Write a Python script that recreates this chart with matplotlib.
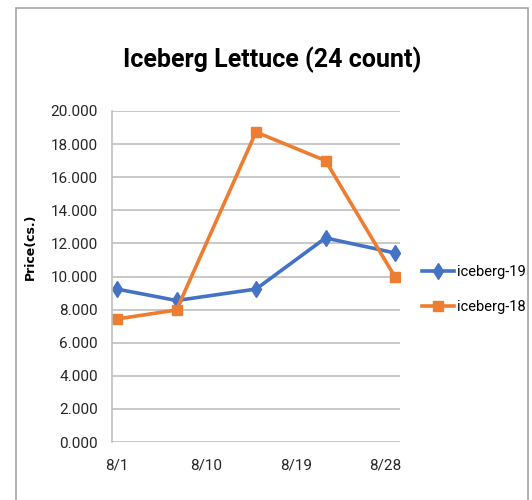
import datetime as dt
import matplotlib
matplotlib.use("Agg")
import matplotlib.pyplot as plt
import matplotlib.dates as mdates
from matplotlib.patches import Rectangle

plt.rcParams['font.family'] = ['Roboto', 'DejaVu Sans']

dates = ["2019-08-01", "2019-08-07", "2019-08-15", "2019-08-22", "2019-08-29"]
iceberg_19 = [9.24, 8.55, 9.24, 12.33, 11.42]
iceberg_18 = [7.43, 7.98, 18.73, 17.0, 9.97]
tick_dates = ["2019-08-01", "2019-08-10", "2019-08-19", "2019-08-28"]

x = [dt.datetime.strptime(d, "%Y-%m-%d") for d in dates]
xt = [dt.datetime.strptime(d, "%Y-%m-%d") for d in tick_dates]

fig = plt.figure(figsize=(5.32, 5.0), dpi=100)
ax = fig.add_axes([0.2105, 0.116, 0.5414, 0.662])

ax.plot(x, iceberg_19, color="#4472C4", lw=2.6, marker="d", ms=8.5, label="iceberg-19")
ax.plot(x, iceberg_18, color="#ED7D31", lw=2.6, marker="s", ms=7, label="iceberg-18")

ax.set_xlim(x[0] - dt.timedelta(days=0.5), x[-1] + dt.timedelta(days=0.5))
ax.set_ylim(0, 20)
ax.set_yticks(range(0, 21, 2))
ax.set_yticklabels([f"{v:.3f}" for v in range(0, 21, 2)], fontsize=11, color="#262626")
ax.set_xticks(xt)
ax.xaxis.set_major_formatter(mdates.DateFormatter("%-m/%-d"))
ax.tick_params(axis="x", labelsize=11, colors="#262626", length=0, pad=12)
ax.tick_params(axis="y", length=0, pad=10)
ax.grid(axis="y", color="#bfbfbf", lw=1.2)
ax.set_axisbelow(True)
for s in ["top", "right", "bottom"]:
    ax.spines[s].set_visible(False)
ax.spines["left"].set_color("#bfbfbf")
ax.spines["left"].set_linewidth(1.2)

ax.set_ylabel("Price(cs.)", family="DejaVu Sans", fontweight="bold", fontsize=9)
ax.yaxis.set_label_coords(-0.262, 0.59)

fig.text(0.512, 0.88, "Iceberg Lettuce (24 count)", ha="center", va="center",
         fontsize=18, fontweight="bold", color="black")

ax.legend(loc="center left", bbox_to_anchor=(1.055, 0.46), frameon=False,
          fontsize=10.5, handlelength=2.2, handletextpad=0.2, labelspacing=1.45,
          borderaxespad=0)

fig.patches.append(Rectangle((16 / 532, -0.05), 512 / 532, 1.05 - 8 / 500,
                             transform=fig.transFigure, fill=False,
                             edgecolor="#a6a6a6", lw=1.2))

fig.savefig("out.png", dpi=100)
